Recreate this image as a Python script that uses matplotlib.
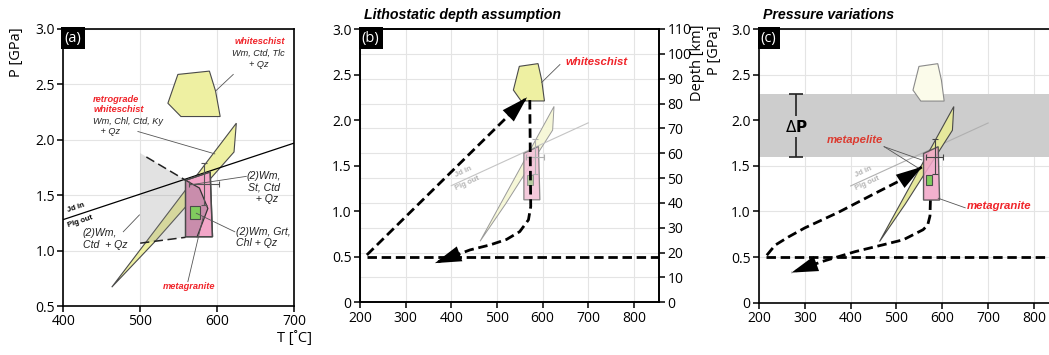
import numpy as np
import matplotlib
matplotlib.use('Agg')
import matplotlib.pyplot as plt
from matplotlib.patches import Polygon, Rectangle
from matplotlib.ticker import FuncFormatter

# --- values (T in degC, P in GPa) ---
ws_T = [549, 590, 598, 604, 553, 536]          # whiteschist field
ws_P = [2.59, 2.62, 2.44, 2.21, 2.21, 2.33]
band_T = [463, 625, 622, 519]                  # yellow reaction band
band_P = [0.67, 2.15, 1.89, 1.08]
box_T = [559, 591, 594, 559]                   # metagranite box
box_P = [1.635, 1.71, 1.125, 1.125]
mauve_T = [559, 577, 588, 574, 559]
mauve_P = [1.635, 1.565, 1.38, 1.125, 1.125]
green_T = [565, 578]
green_P = [1.285, 1.40]
field_T = [500, 559, 559, 500]                 # grey (2)Wm, Ctd + Qz field
field_P = [1.88, 1.635, 1.12, 1.067]
jd_T = [400, 700]                              # Jd in / Plg out
jd_P = [1.28, 1.97]
err_T, err_P = 583, 1.60
err_dT, err_dP = 19, 0.19

path_b_up_T = [215, 566]
path_b_up_P = [0.52, 2.25]
path_b_down_T = [572, 573, 574, 569, 550, 521, 485, 441, 364]
path_b_down_P = [2.22, 1.60, 1.05, 0.905, 0.776, 0.69, 0.63, 0.575, 0.43]
path_c_up_T = [217, 235, 264, 300, 373, 446, 520, 556]
path_c_up_P = [0.52, 0.63, 0.72, 0.82, 0.99, 1.18, 1.37, 1.49]
path_c_down_T = [574, 573, 568, 558, 515, 475, 410, 337, 271]
path_c_down_P = [1.12, 0.95, 0.85, 0.80, 0.69, 0.64, 0.56, 0.45, 0.33]
iso_T = [215, 855]
iso_P = 0.5
dP_range = [1.6, 2.29]
dP_T = 280
depth_ticks = list(range(0, 111, 10))
depth_max = 110

YEL = '#eef0a2'
PINK = '#f2a6c8'
MAUVE = '#c98dac'
GREEN = '#80cc5e'
RED = '#f0242a'
GRID = '#e4e4e4'
EDGE = '#4a4a4a'

plt.rcParams['font.family'] = ['Open Sans', 'DejaVu Sans']
ANN = dict(family='Liberation Sans', style='italic')

fig = plt.figure(figsize=(10.49, 3.55), dpi=100)
W, H = 1049, 355
ax_a = fig.add_axes([63.3 / W, 49 / H, 230.7 / W, 277 / H])
ax_b = fig.add_axes([360 / W, 52.7 / H, 299 / W, 273.3 / H])
ax_c = fig.add_axes([759 / W, 52.3 / H, 300.2 / W, 273.7 / H])


def pfmt(v, pos):
    return '0' if abs(v) < 1e-9 else '%.1f' % v


def style(ax, xlim, ylim, xticks, yticks):
    ax.set_xlim(xlim)
    ax.set_ylim(ylim)
    ax.set_xticks(xticks)
    ax.set_yticks(yticks)
    ax.yaxis.set_major_formatter(FuncFormatter(pfmt))
    ax.tick_params(direction='out', length=4, width=1.1, labelsize=10, pad=2)
    for s in ax.spines.values():
        s.set_linewidth(1.2)
    ax.grid(True, color=GRID, lw=0.8, zorder=0)
    ax.set_axisbelow(True)


def panel_label(ax, s):
    ax.text(0.006, 0.994, s, transform=ax.transAxes, ha='left', va='top',
            color='white', fontsize=10.5, zorder=20,
            bbox=dict(boxstyle='square,pad=0.22', fc='black', ec='none'))


def line_angle(ax, T, P):
    p = ax.transData.transform(np.column_stack([T, P]))
    return np.degrees(np.arctan2(p[1, 1] - p[0, 1], p[1, 0] - p[0, 0]))


def dashed(ax, T, P, arrow=True):
    ax.plot(T, P, color='black', lw=2.0, dashes=(3.4, 1.7), zorder=8,
            solid_capstyle='butt')
    if arrow:
        ax.annotate('', xy=(T[-1], P[-1]), xytext=(T[-2], P[-2]),
                    arrowprops=dict(arrowstyle='-|>,head_length=1.0,head_width=0.3',
                                    mutation_scale=19, fc='black', ec='black', lw=0,
                                    shrinkA=0, shrinkB=0), zorder=9)


def errbar(ax, color, lw=0.8):
    ax.errorbar([err_T], [err_P], xerr=[err_dT], yerr=[err_dP], fmt='none',
                ecolor=color, elinewidth=lw, capsize=2.5, capthick=lw, zorder=7)


def jd_text(ax, color, xa, ya, xb, yb, ang):
    ax.text(xa, ya, 'Jd in', color=color, fontsize=5.5, fontweight='bold',
            family='Liberation Sans', rotation=ang, ha='center', va='center', zorder=6)
    ax.text(xb, yb, 'Plg out', color=color, fontsize=5.5, fontweight='bold',
            family='Liberation Sans', rotation=ang, ha='center', va='center', zorder=6)


# ---------------- panel (a) ----------------
ax = ax_a
style(ax, (400, 700), (0.5, 3.0), [400, 500, 600, 700], np.arange(0.5, 3.01, 0.5))
ax.add_patch(Polygon(np.column_stack([ws_T, ws_P]), fc=YEL, ec=EDGE, lw=0.8, zorder=3))
ax.add_patch(Polygon(np.column_stack([band_T, band_P]), fc=YEL, ec=EDGE, lw=0.8, zorder=3))
ax.add_patch(Polygon(np.column_stack([field_T, field_P]), fc='#8f8f8f', alpha=0.25,
                     ec='none', zorder=4))
ax.plot(jd_T, jd_P, color='black', lw=0.9, zorder=4.5)
ax.add_patch(Polygon(np.column_stack([box_T, box_P]), fc=PINK, ec=EDGE, lw=1.0, zorder=5))
ax.add_patch(Polygon(np.column_stack([mauve_T, mauve_P]), fc=MAUVE, ec='none', zorder=5.1))
ax.plot(mauve_T[:4], mauve_P[:4], color='#333333', lw=0.9, zorder=5.2)
ax.add_patch(Polygon(np.column_stack([box_T, box_P]), fc='none', ec=EDGE, lw=1.0, zorder=5.3))
ax.add_patch(Rectangle((green_T[0], green_P[0]), green_T[1] - green_T[0],
                       green_P[1] - green_P[0], fc=GREEN, ec=EDGE, lw=0.8, zorder=6))
errbar(ax, '#555555')
ax.plot([field_T[0] + 8, field_T[1]], [field_P[0] - 0.035, field_P[1]], color='#222222',
        lw=1.1, dashes=(6, 3), zorder=6)
ax.plot([field_T[3], field_T[2]], [field_P[3], field_P[2]], color='#222222', lw=1.1,
        dashes=(6, 3), zorder=6)

ang_a = line_angle(ax, jd_T, jd_P)
jd_text(ax, 'black', 417, 1.39, 422, 1.265, ang_a)

LEAD = dict(color='#555555', lw=0.6, zorder=6)
ax.text(655, 2.885, 'whiteschist', color=RED, fontsize=6.7, fontweight='bold',
        ha='center', va='center', **ANN)
ax.text(654, 2.73, 'Wm, Ctd, Tlc\n+ Qz', color='#222222', fontsize=6.6, ha='center',
        va='center', linespacing=1.2, **ANN)
ax.plot([621, 598], [2.59, 2.44], **LEAD)
ax.text(439, 2.32, 'retrograde\nwhiteschist', color=RED, fontsize=6.7, fontweight='bold',
        ha='left', va='center', linespacing=1.15, **ANN)
ax.text(439, 2.12, 'Wm, Chl, Ctd, Ky\n   + Qz', color='#222222', fontsize=6.6,
        ha='left', va='center', linespacing=1.2, **ANN)
ax.plot([497, 597], [2.075, 1.873], **LEAD)
ax.text(661, 1.57, '(2)Wm,\nSt, Ctd\n  + Qz', color='#222222', fontsize=7.6,
        ha='center', va='center', linespacing=1.15, **ANN)
ax.plot([638, 564.5], [1.67, 1.593], **LEAD)
ax.text(624, 1.12, '(2)Wm, Grt,\nChl + Qz', color='#222222', fontsize=7.6,
        ha='left', va='center', linespacing=1.15, **ANN)
ax.plot([623, 573], [1.17, 1.337], **LEAD)
ax.text(425, 1.105, '(2)Wm,\nCtd  + Qz', color='#222222', fontsize=7.6,
        ha='left', va='center', linespacing=1.15, **ANN)
ax.plot([478, 499], [1.17, 1.322], **LEAD)
ax.text(563, 0.675, 'metagranite', color=RED, fontsize=6.7, fontweight='bold',
        ha='center', va='center', **ANN)
ax.plot([562, 582], [0.72, 1.307], **LEAD)

ax.text(-0.205, 0.915, 'P [GPa]', transform=ax.transAxes, rotation=90, ha='center',
        va='center', fontsize=10.5)
ax.text(1.078, -0.117, 'T [˚C]', transform=ax.transAxes, ha='right', va='center',
        fontsize=10.5)
panel_label(ax, '(a)')

# ---------------- panel (b) ----------------
ax = ax_b
style(ax, (200, 855), (0, 3.0), np.arange(200, 801, 100), np.arange(0, 3.01, 0.5))
ax.grid(False, axis='y')
ax.set_yticks(np.array(depth_ticks) * 3.0 / depth_max, minor=True)
ax.tick_params(axis='y', which='minor', length=0)
ax.grid(True, axis='y', which='minor', color=GRID, lw=0.8)
ax.add_patch(Polygon(np.column_stack([ws_T, ws_P]), fc=YEL, ec=EDGE, lw=0.8, zorder=3))
ax.add_patch(Polygon(np.column_stack([band_T, band_P]), fc='#f6f7d8', ec='#9a9a9a',
                     lw=0.7, zorder=3))
ax.plot(jd_T, jd_P, color='#c4c4c4', lw=0.8, zorder=3.5)
ax.add_patch(Polygon(np.column_stack([box_T, box_P]), fc='#f3c3d8', ec='#7a7a7a',
                     lw=0.9, zorder=4, alpha=0.9))
ax.add_patch(Rectangle((green_T[0], green_P[0]), green_T[1] - green_T[0],
                       green_P[1] - green_P[0], fc='#b5c9a0', ec='#8a8a8a', lw=0.6,
                       zorder=4.5))
errbar(ax, '#b0b0b0')
ang_b = line_angle(ax, jd_T, jd_P)
jd_text(ax, '#b4b4b4', 427, 1.43, 436, 1.31, ang_b)
ax.plot(iso_T, [iso_P, iso_P], color='black', lw=2.0, dashes=(3.4, 1.7), zorder=8)
dashed(ax, path_b_up_T, path_b_up_P)
dashed(ax, path_b_down_T, path_b_down_P)
ax.plot([598, 638], [2.414, 2.61], color='#555555', lw=0.6, zorder=6)
ax.text(649, 2.633, 'whiteschist', color=RED, fontsize=8.2, fontweight='bold',
        ha='left', va='center', **ANN)
panel_label(ax, '(b)')

ax2 = ax.twinx()
ax2.set_ylim(0, depth_max)
ax2.set_yticks(depth_ticks)
ax2.tick_params(direction='out', length=4, width=1.1, labelsize=10, pad=2)
for s in ax2.spines.values():
    s.set_linewidth(1.2)
ax2.text(1.13, 0.878, 'Depth [km]', transform=ax2.transAxes, rotation=90,
         ha='center', va='center', fontsize=10.5)

# ---------------- panel (c) ----------------
ax = ax_c
style(ax, (200, 855), (0, 3.0), np.arange(200, 801, 100), np.arange(0, 3.01, 0.5))
ax.axhspan(dP_range[0], dP_range[1], color='#cdcdcd', lw=0, zorder=1)
ax.add_patch(Polygon(np.column_stack([ws_T, ws_P]), fc='#fbfbea', ec='#8a8a8a', lw=0.8,
                     zorder=3))
ax.plot(jd_T, jd_P, color='#b0b0b0', lw=0.8, zorder=3.5)
ax.add_patch(Polygon(np.column_stack([band_T, band_P]), fc='#e6e89c', ec=EDGE, lw=0.8,
                     zorder=3.6))
ax.add_patch(Polygon(np.column_stack([box_T, box_P]), fc=PINK, ec=EDGE, lw=1.0,
                     zorder=4, alpha=0.88))
ax.add_patch(Rectangle((green_T[0], green_P[0]), green_T[1] - green_T[0],
                       green_P[1] - green_P[0], fc=GREEN, ec=EDGE, lw=0.8, zorder=4.5))
errbar(ax, '#444444')
ang_c = line_angle(ax, jd_T, jd_P)
jd_text(ax, '#b4b4b4', 428, 1.43, 436, 1.31, ang_c)
ax.plot(iso_T, [iso_P, iso_P], color='black', lw=2.0, dashes=(3.4, 1.7), zorder=8)
dashed(ax, path_c_up_T, path_c_up_P)
dashed(ax, path_c_down_T, path_c_down_P)

# delta P bar
ax.errorbar([dP_T], [np.mean(dP_range)], yerr=[(dP_range[1] - dP_range[0]) / 2],
            fmt='none', ecolor='#222222', elinewidth=1.2, capsize=5, capthick=1.2, zorder=6)
ax.text(dP_T + 2, 1.93, r'$\Delta$' + 'P', fontsize=11, fontweight='bold', ha='center',
        va='center', zorder=7, family='DejaVu Sans',
        bbox=dict(boxstyle='square,pad=0.15', fc='#cdcdcd', ec='none'))

ax.text(409, 1.784, 'metapelite', color='#dc3b30', fontsize=8.2, fontweight='bold',
        ha='center', va='center', zorder=7, **ANN)
ax.plot([473, 555], [1.71, 1.565], color='#555555', lw=0.6, zorder=6)
ax.plot([473, 548], [1.71, 1.474], color='#555555', lw=0.6, zorder=6)
ax.text(653, 1.06, 'metagranite', color=RED, fontsize=8.2, fontweight='bold',
        ha='left', va='center', zorder=7, **ANN)
ax.plot([591, 650], [1.145, 1.04], color='#555555', lw=0.6, zorder=6)
ax.text(-0.147, 0.923, 'P [GPa]', transform=ax.transAxes, rotation=90, ha='center',
        va='center', fontsize=10.5)
panel_label(ax, '(c)')

fig.text(364 / W, 1 - 15 / H, 'Lithostatic depth assumption', fontsize=10.2,
         fontweight='bold', style='italic', family='Liberation Sans', va='center')
fig.text(763 / W, 1 - 15 / H, 'Pressure variations', fontsize=10.2,
         fontweight='bold', style='italic', family='Liberation Sans', va='center')

fig.savefig('out.png', dpi=100)
